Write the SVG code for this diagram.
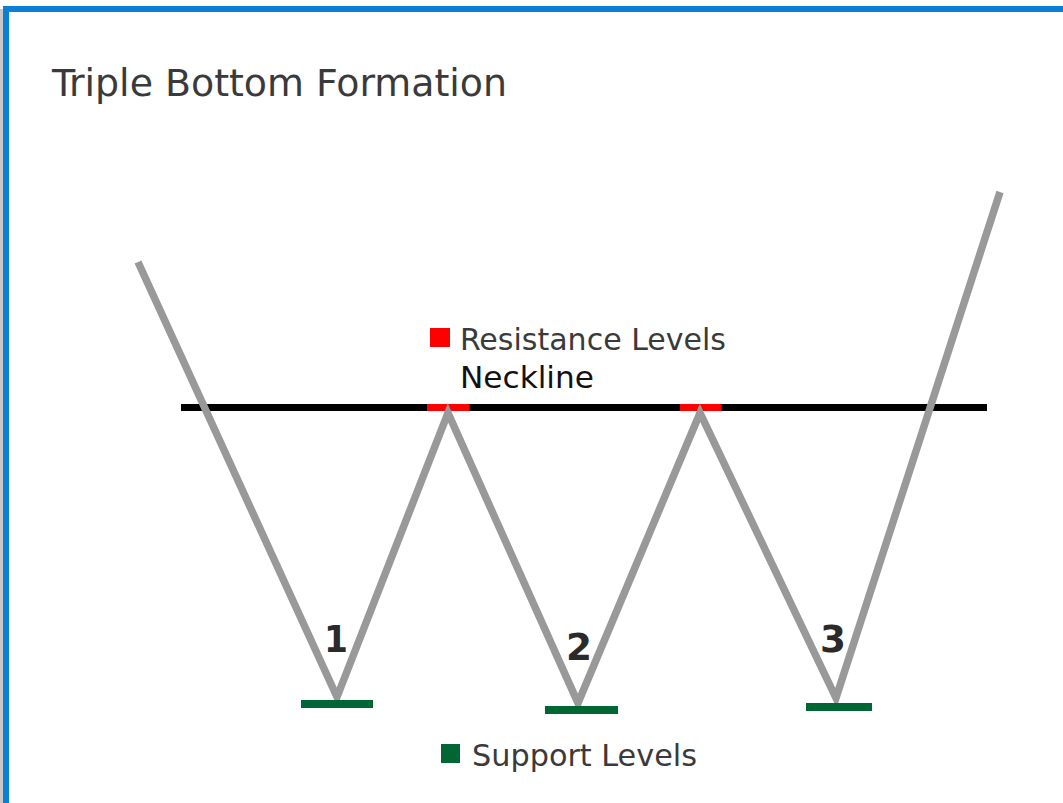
<svg xmlns="http://www.w3.org/2000/svg" width="1063" height="803" viewBox="0 0 1063 803">
<style>
.t{font-family:"DejaVu Sans Condensed","DejaVu Sans","Liberation Sans",sans-serif;fill:#3a3a3a}
.num{font-family:"DejaVu Sans","Liberation Sans",sans-serif;font-weight:bold;fill:#2a2a2a;font-size:38px}
.green{fill:#006633}
</style>
<rect width="1063" height="803" fill="#ffffff"/>
<rect x="0" y="9" width="3" height="794" fill="#c8c8c8"/>
<rect x="3" y="6" width="1060" height="6" fill="#0a7fd6"/>
<rect x="3" y="6" width="6" height="797" fill="#0a7fd6"/>
<text class="t" x="52" y="96" font-size="37" textLength="455" lengthAdjust="spacingAndGlyphs">Triple Bottom Formation</text>
<g id="neckline">
<rect x="181" y="404" width="806" height="7" fill="#000"/>
<rect x="427" y="404" width="42" height="7" fill="#ff0000"/>
<rect x="680" y="404" width="41" height="7" fill="#ff0000"/>
</g>
<g id="connectors">
<polyline points="138,262 337,697 448,413 578,703 700,413 836,698 1000,192" fill="none" stroke="#999999" stroke-width="7.5" stroke-linejoin="miter"/>
</g>
<g id="support">
<rect class="green" x="301" y="700" width="72" height="8"/>
<rect class="green" x="545" y="706" width="73" height="8"/>
<rect class="green" x="806" y="703" width="66" height="8"/>
</g>
<g id="labels">
<text class="num" x="324" y="652" textLength="24" lengthAdjust="spacingAndGlyphs">1</text>
<text class="num" x="566" y="660" textLength="26" lengthAdjust="spacingAndGlyphs">2</text>
<text class="num" x="820" y="652" textLength="26" lengthAdjust="spacingAndGlyphs">3</text>
</g>
<g id="legend-resistance">
<rect x="430" y="328" width="20" height="19" fill="#ff0000"/>
<text class="t" x="460" y="350" font-size="31" textLength="266" lengthAdjust="spacingAndGlyphs">Resistance Levels</text>
<text class="t" x="460" y="388" font-size="31" style="fill:#111" textLength="134" lengthAdjust="spacingAndGlyphs">Neckline</text>
</g>
<g id="legend-support">
<rect class="green" x="441" y="744" width="19" height="19"/>
<text class="t" x="472" y="766" font-size="31" textLength="225" lengthAdjust="spacingAndGlyphs">Support Levels</text>
</g>
</svg>
